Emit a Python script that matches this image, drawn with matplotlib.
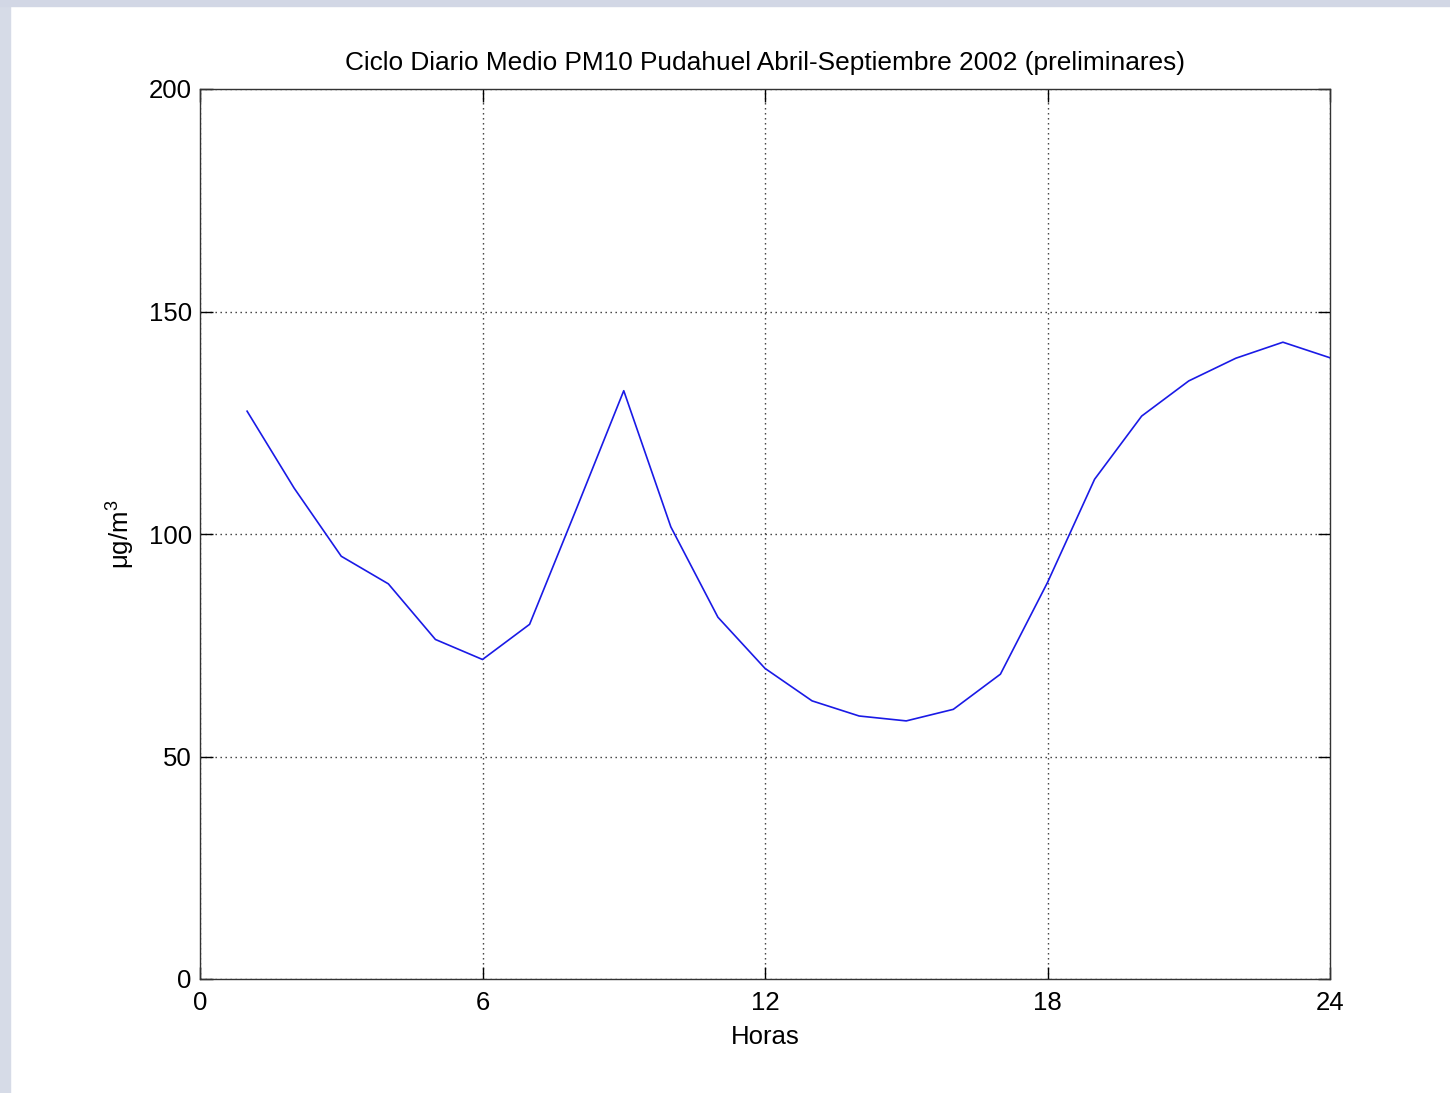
import numpy as np
import matplotlib.pyplot as plt
from matplotlib.patches import Rectangle

# Ciclo diario medio de PM10, estacion Pudahuel, abril-septiembre 2002
horas = np.arange(1, 25)
pm10 = [127.6, 110.3, 95.0, 88.8, 76.3, 71.8, 79.7, 105.8, 132.2, 101.6,
        81.3, 69.8, 62.5, 59.1, 58.0, 60.6, 68.5, 89.1, 112.3, 126.5,
        134.4, 139.5, 143.1, 139.6]

xticks = [0, 6, 12, 18, 24]
yticks = [0, 50, 100, 150, 200]

plt.rcParams['font.family'] = ['Liberation Sans', 'DejaVu Sans']

fig = plt.figure(figsize=(14.5, 10.93), dpi=100)

# marco azulado en los bordes izquierdo y superior
fig.patches.append(Rectangle((0, 0), 10 / 1450, 1, transform=fig.transFigure,
                             color='#d6dbe7', zorder=0))
fig.patches.append(Rectangle((0, 1 - 6 / 1093), 1, 6 / 1093, transform=fig.transFigure,
                             color='#d2d7e5', zorder=0))

ax = fig.add_axes([200 / 1450, 114 / 1093, 1130 / 1450, 890 / 1093])
ax.plot(horas, pm10, color='#1a1ae6', linewidth=1.2)

ax.set_xlim(0, 24)
ax.set_ylim(0, 200)
ax.set_xticks(xticks)
ax.set_yticks(yticks)
ax.tick_params(direction='in', length=9, width=1, top=True, right=True,
               labelsize=18.5)
ax.tick_params(axis='x', pad=9)
ax.tick_params(axis='y', pad=6)
ax.grid(True, linestyle=(0, (1, 2.6)), color='#333333', linewidth=1)
for s in ax.spines.values():
    s.set_linewidth(1)
    s.set_color('#333333')

ax.set_title('Ciclo Diario Medio PM10 Pudahuel Abril-Septiembre 2002 (preliminares)',
             fontsize=18.9, pad=14)
ax.set_xlabel('Horas', fontsize=18.5, labelpad=7)
ax.set_ylabel(r'$\mathregular{\mu g/m^3}$', fontsize=18.5, labelpad=8)

fig.savefig('out.png', dpi=100)
